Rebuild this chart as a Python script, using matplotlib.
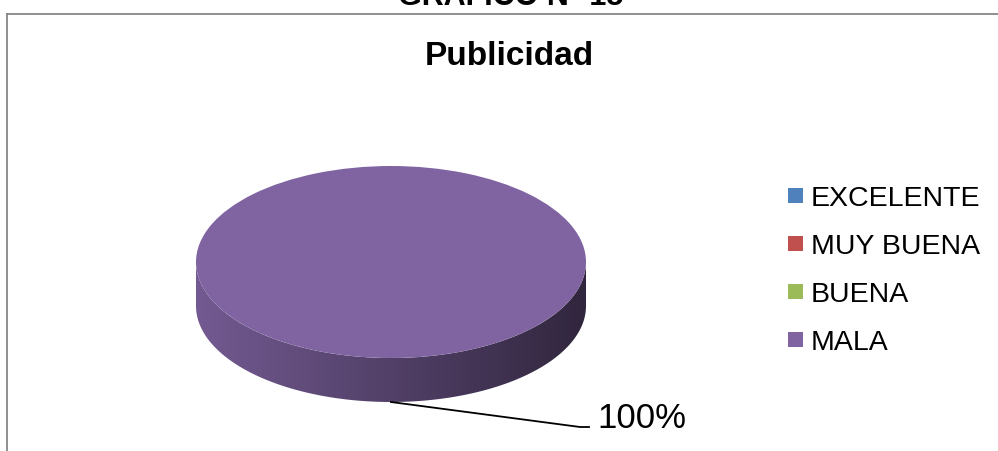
import numpy as np
import matplotlib
matplotlib.use("Agg")
import matplotlib.pyplot as plt
from matplotlib.patches import Polygon, Rectangle
from matplotlib.lines import Line2D
from matplotlib.colors import to_rgb

# ---- data ----
categories = ["EXCELENTE", "MUY BUENA", "BUENA", "MALA"]
values = [0, 0, 0, 100]
colors = ["#4F81BD", "#C0504D", "#9BBB59", "#8064A2"]
chart_title = "GRAFICO N° 15"
pie_title = "Publicidad"

plt.rcParams["font.family"] = ["Liberation Sans", "DejaVu Sans"]

W, H = 998, 452
fig = plt.figure(figsize=(W / 100, H / 100), dpi=100)

# pixel geometry (image coords, y down)
cx, cy = 391, 263          # centre of top ellipse
rx, ry = 195, 96           # semi-axes of top ellipse
depth_px = 44              # thickness of the pie
ax_l, ax_r, ax_t, ax_b = 150, 632, 140, 452

ax = fig.add_axes([ax_l / W, (H - ax_b) / H, (ax_r - ax_l) / W, (ax_b - ax_t) / H])
wedges, _ = ax.pie(values, colors=colors, startangle=90, counterclock=False,
                   radius=1, center=(0, 0), wedgeprops=dict(linewidth=0))
for w in wedges:
    w.set_zorder(5)
ax.set_aspect("auto")
ax.axis("off")

d = depth_px / ry
total = float(sum(values))
cum = np.cumsum([0] + list(values)) / total

# side walls (front half only), shaded horizontally
for i, (v, col) in enumerate(zip(values, colors)):
    if v <= 0:
        continue
    hi = 90 - 360 * cum[i]
    lo = 90 - 360 * cum[i + 1]
    a0, a1 = max(lo, -180), min(hi, 0)
    if a1 <= a0:
        continue
    th = np.radians(np.linspace(a0, a1, 200))
    top = np.column_stack([np.cos(th), np.sin(th)])
    bot = np.column_stack([np.cos(th[::-1]), np.sin(th[::-1]) - d])
    poly = Polygon(np.vstack([top, bot]), closed=True, facecolor="none",
                   edgecolor="none", zorder=2)
    ax.add_patch(poly)
    xs = np.linspace(-1, 1, 400)
    f = 0.64 - 0.26 * xs
    base = np.array(to_rgb(col))
    img = np.clip(f[None, :, None] * base[None, None, :], 0, 1)
    im = ax.imshow(img, extent=(-1, 1, -1 - d, 0), aspect="auto",
                   interpolation="bilinear", zorder=2)
    im.set_clip_path(poly)

ax.set_xlim((ax_l - cx) / rx, (ax_r - cx) / rx)
ax.set_ylim((cy - ax_b) / ry, (cy - ax_t) / ry)

# data label with leader line
for i, v in enumerate(values):
    if v <= 0:
        continue
    mid = np.radians(90 - 360 * (cum[i] + cum[i + 1]) / 2)
    x0, y0 = np.cos(mid), np.sin(mid) - d
    x1, y1 = x0 + 189 / rx, y0 - 25 / ry
    x2 = x1 + 9 / rx
    ax.add_line(Line2D([x0, x1, x2], [y0, y1, y1], color="black", lw=1.3,
                       zorder=6, clip_on=False))
    ax.text(x2 + 8 / rx, y1, f"{v / total * 100:.0f}%", fontsize=25,
            ha="left", va="baseline", color="black", clip_on=False)

# titles
fig.text(511 / W, (H - 5) / H, chart_title, fontsize=22, fontweight="bold",
         ha="center", va="baseline")
fig.text(509 / W, (H - 65) / H, pie_title, fontsize=24, fontweight="bold",
         ha="center", va="baseline")

# legend
for i, (cat, col) in enumerate(zip(categories, colors)):
    yc = 196.5 + 48 * i
    fig.patches.append(Rectangle((788 / W, (H - yc - 7.5) / H), 15 / W, 15 / H,
                                 transform=fig.transFigure, facecolor=col,
                                 edgecolor="none"))
    fig.text(811 / W, (H - (yc + 9.5)) / H, cat, fontsize=20.5,
             ha="left", va="baseline", color="black")

# chart area border (top and left visible)
fig.add_artist(Line2D([7 / W, 1], [(H - 15) / H, (H - 15) / H],
                      transform=fig.transFigure, color="#868686", lw=1.3))
fig.add_artist(Line2D([7 / W, 7 / W], [0, (H - 15) / H],
                      transform=fig.transFigure, color="#868686", lw=1.3))

fig.savefig("out.png", dpi=100)
